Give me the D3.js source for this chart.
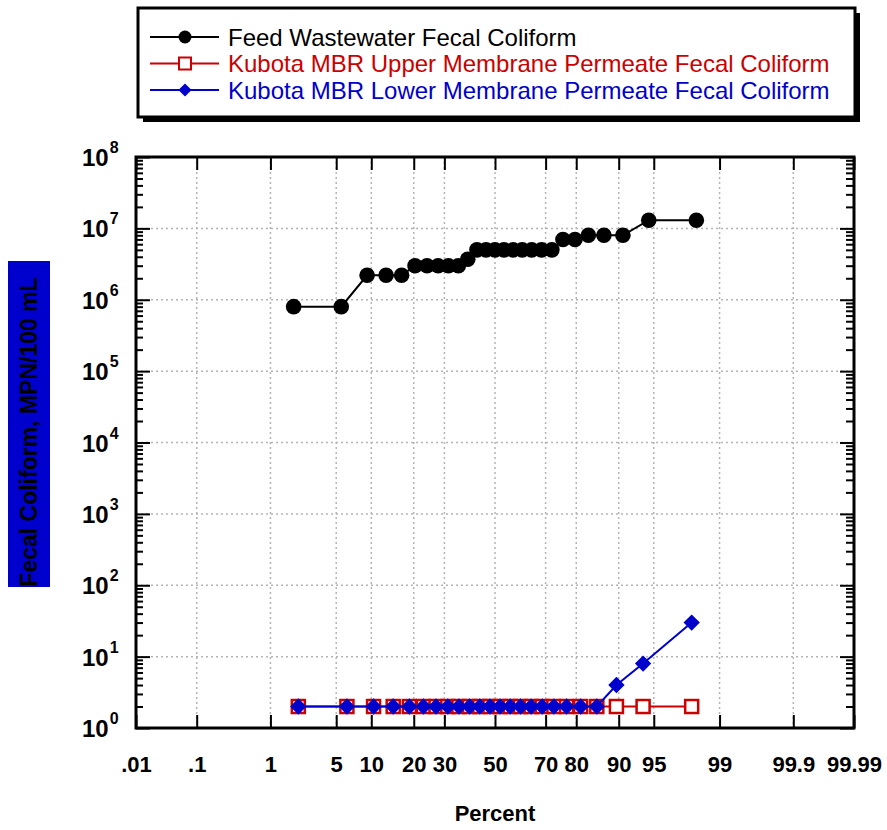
<!DOCTYPE html>
<html>
<head>
<meta charset="utf-8">
<script src="https://cdn.jsdelivr.net/npm/d3@7"></script>
<style>
  body { margin: 0; background: #fff; }
  svg { display: block; font-family: Arial, "Liberation Sans", sans-serif; }
</style>
</head>
<body>
<div id="chart"></div>
<script>
// probability plot - fecal coliform, feed vs. permeate
const xTickValues = [0.01, 0.1, 1, 5, 10, 20, 30, 50, 70, 80, 90, 95, 99, 99.9, 99.99];
const xTickLabels = [".01", ".1", "1", "5", "10", "20", "30", "50", "70", "80", "90", "95", "99", "99.9", "99.99"];
const yDecades = [0, 1, 2, 3, 4, 5, 6, 7, 8];

const feedPercent = [1.85, 5.56, 9.26, 12.96, 16.67, 20.37, 24.07, 27.78, 31.48, 35.19, 38.89, 42.59, 46.30, 50.00,
    53.70, 57.41, 61.11, 64.81, 68.52, 72.22, 75.93, 79.63, 83.33, 87.04, 90.74, 94.44, 98.15];
const feedValues = [8e5, 8e5, 2.2e6, 2.2e6, 2.2e6, 3e6, 3e6, 3e6, 3e6, 3e6, 3.7e6, 5e6, 5e6, 5e6,
    5e6, 5e6, 5e6, 5e6, 5e6, 5e6, 7e6, 7e6, 8e6, 8e6, 8e6, 1.3e7, 1.3e7];

const permeatePercent = [2.08, 6.25, 10.42, 14.58, 18.75, 22.92, 27.08, 31.25, 35.42, 39.58, 43.75, 47.92,
    52.08, 56.25, 60.42, 64.58, 68.75, 72.92, 77.08, 81.25, 85.42, 89.58, 93.75, 97.92];
const upperValues = [2, 2, 2, 2, 2, 2, 2, 2, 2, 2, 2, 2, 2, 2, 2, 2, 2, 2, 2, 2, 2, 2, 2, 2];
const lowerValues = [2, 2, 2, 2, 2, 2, 2, 2, 2, 2, 2, 2, 2, 2, 2, 2, 2, 2, 2, 2, 2, 4, 8, 30];

const seriesNames = [
    "Feed Wastewater Fecal Coliform",
    "Kubota MBR Upper Membrane Permeate Fecal Coliform",
    "Kubota MBR Lower Membrane Permeate Fecal Coliform"
];
const RED = "#cc0000", BLUE = "#0000cc";

// inverse normal cdf (Acklam)
function probit(p) {
    const a = [-39.69683028665376, 220.9460984245205, -275.9285104469687, 138.3577518672690, -30.66479806614716, 2.506628277459239];
    const b = [-54.47609879822406, 161.5858368580409, -155.6989798598866, 66.80131188771972, -13.28068155288572];
    const c = [-0.007784894002430293, -0.3223964580411365, -2.400758277161838, -2.549732539343734, 4.374664141464968, 2.938163982698783];
    const d = [0.007784695709041462, 0.3224671290700398, 2.445134137142996, 3.754408661907416];
    const pl = 0.02425;
    let q, r;
    if (p < pl) {
        q = Math.sqrt(-2 * Math.log(p));
        return (((((c[0] * q + c[1]) * q + c[2]) * q + c[3]) * q + c[4]) * q + c[5]) /
            ((((d[0] * q + d[1]) * q + d[2]) * q + d[3]) * q + 1);
    } else if (p <= 1 - pl) {
        q = p - 0.5; r = q * q;
        return (((((a[0] * r + a[1]) * r + a[2]) * r + a[3]) * r + a[4]) * r + a[5]) * q /
            (((((b[0] * r + b[1]) * r + b[2]) * r + b[3]) * r + b[4]) * r + 1);
    }
    q = Math.sqrt(-2 * Math.log(1 - p));
    return -(((((c[0] * q + c[1]) * q + c[2]) * q + c[3]) * q + c[4]) * q + c[5]) /
        ((((d[0] * q + d[1]) * q + d[2]) * q + d[3]) * q + 1);
}

const width = 887, height = 830;
const margin = { top: 157, right: 33, bottom: 102, left: 136 };
const innerW = width - margin.left - margin.right;
const innerH = height - margin.top - margin.bottom;

const svg = d3.select("#chart").append("svg")
    .attr("width", width)
    .attr("height", height);

const zMax = -probit(0.0001);
const zScale = d3.scaleLinear().domain([-zMax, zMax]).range([0, innerW]);
const x = p => zScale(probit(p / 100));
const y = d3.scaleLog().domain([1, 1e8]).range([innerH, 0]);

const g = svg.append("g").attr("transform", `translate(${margin.left},${margin.top})`);

// grid
g.selectAll(".hgrid")
    .data(yDecades.slice(1, -1))
    .enter().append("line")
    .attr("x1", 0).attr("x2", innerW)
    .attr("y1", d => y(Math.pow(10, d))).attr("y2", d => y(Math.pow(10, d)))
    .style("stroke", "#b4b4b4").style("stroke-width", 1.5).style("stroke-dasharray", "2,3");
g.selectAll(".vgrid")
    .data(xTickValues.slice(1, -1))
    .enter().append("line")
    .attr("x1", d => x(d)).attr("x2", d => x(d))
    .attr("y1", 0).attr("y2", innerH)
    .style("stroke", "#b4b4b4").style("stroke-width", 1.5).style("stroke-dasharray", "2,3");

// axes
const minorVals = [];
yDecades.slice(0, -1).forEach(e => {
    for (let k = 2; k <= 9; k++) minorVals.push(k * Math.pow(10, e));
});
const majorVals = yDecades.map(e => Math.pow(10, e));

function styleAxis(sel) {
    sel.select(".domain").remove();
    sel.selectAll(".tick line").style("stroke", "#000").style("stroke-width", 2);
}

g.append("g").attr("transform", `translate(0,${innerH})`)
    .call(d3.axisBottom(zScale).tickValues(xTickValues.map(p => probit(p / 100)))
        .tickSizeInner(-13).tickSizeOuter(0).tickPadding(28)
        .tickFormat((d, i) => xTickLabels[i]))
    .call(styleAxis)
    .call(a => a.selectAll("text").style("font-size", "22px").style("font-weight", "bold")
        .style("fill", "#000").style("font-family", "Arial, 'Liberation Sans', sans-serif"));
g.append("g")
    .call(d3.axisTop(zScale).tickValues(xTickValues.map(p => probit(p / 100)))
        .tickSizeInner(-13).tickSizeOuter(0).tickFormat(""))
    .call(styleAxis);

g.append("g").call(d3.axisLeft(y).tickValues(majorVals).tickSizeInner(-14).tickSizeOuter(0).tickFormat("")).call(styleAxis);
g.append("g").call(d3.axisLeft(y).tickValues(minorVals).tickSizeInner(-7).tickSizeOuter(0).tickFormat("")).call(styleAxis);
g.append("g").attr("transform", `translate(${innerW},0)`)
    .call(d3.axisRight(y).tickValues(majorVals).tickSizeInner(-14).tickSizeOuter(0).tickFormat("")).call(styleAxis);
g.append("g").attr("transform", `translate(${innerW},0)`)
    .call(d3.axisRight(y).tickValues(minorVals).tickSizeInner(-8).tickSizeOuter(0).tickFormat("")).call(styleAxis);

g.append("rect")
    .attr("width", innerW).attr("height", innerH)
    .style("fill", "none").style("stroke", "#000").style("stroke-width", 3);

// y tick labels 10^n
const yLabels = g.selectAll(".ylab")
    .data(yDecades)
    .enter().append("text")
    .attr("x", -54)
    .attr("y", d => y(Math.pow(10, d)) + 9)
    .style("font-size", "24px").style("font-weight", "bold");
yLabels.append("tspan").text("10");
yLabels.append("tspan").attr("dx", 1).attr("dy", -13).style("font-size", "16px").text(d => d);

// series
const line = d3.line().x(d => x(d[0])).y(d => y(d[1]));
const feedPts = d3.zip(feedPercent, feedValues);
const upperPts = d3.zip(permeatePercent, upperValues);
const lowerPts = d3.zip(permeatePercent, lowerValues);

g.append("path").datum(upperPts).attr("d", line)
    .style("fill", "none").style("stroke", RED).style("stroke-width", 2);
g.selectAll(".up").data(upperPts).enter().append("rect")
    .attr("x", d => x(d[0]) - 6.5).attr("y", d => y(d[1]) - 6.5)
    .attr("width", 13).attr("height", 13)
    .style("fill", "#fff").style("stroke", RED).style("stroke-width", 2.5);

g.append("path").datum(lowerPts).attr("d", line)
    .style("fill", "none").style("stroke", BLUE).style("stroke-width", 2);
g.selectAll(".low").data(lowerPts).enter().append("path")
    .attr("d", d3.symbol(d3.symbolDiamond2, 170))
    .attr("transform", d => `translate(${x(d[0])},${y(d[1])})`)
    .style("fill", BLUE);

g.append("path").datum(feedPts).attr("d", line)
    .style("fill", "none").style("stroke", "#000").style("stroke-width", 2);
g.selectAll(".feed").data(feedPts).enter().append("circle")
    .attr("cx", d => x(d[0])).attr("cy", d => y(d[1]))
    .attr("r", 7.8)
    .style("fill", "#000");

// axis titles
svg.append("text")
    .attr("x", margin.left + innerW / 2).attr("y", 821)
    .style("text-anchor", "middle").style("font-size", "22px").style("font-weight", "bold")
    .text("Percent");
svg.append("rect")
    .attr("x", 8).attr("y", 261).attr("width", 42).attr("height", 326)
    .style("fill", BLUE);
svg.append("text")
    .attr("transform", "translate(37,432) rotate(-90)")
    .style("text-anchor", "middle").style("font-size", "23px").style("font-weight", "bold")
    .style("fill", "#000")
    .text("Fecal Coliform, MPN/100 mL");

// legend
const legend = svg.append("g");
legend.append("rect").attr("x", 143).attr("y", 13).attr("width", 717).attr("height", 109).style("fill", "#000");
legend.append("rect").attr("x", 138).attr("y", 8).attr("width", 717).attr("height", 109)
    .style("fill", "#fff").style("stroke", "#000").style("stroke-width", 3);

const legColors = ["#000", RED, BLUE];
const legItems = legend.selectAll(".item")
    .data(seriesNames)
    .enter().append("g")
    .attr("transform", (d, i) => `translate(0,${37 + i * 26.5})`);
legItems.append("line")
    .attr("x1", 150).attr("x2", 219)
    .style("stroke", (d, i) => legColors[i]).style("stroke-width", 2);
legItems.filter((d, i) => i === 0).append("circle")
    .attr("cx", 185).attr("r", 6.5).style("fill", "#000");
legItems.filter((d, i) => i === 1).append("rect")
    .attr("x", 179).attr("y", -6).attr("width", 12).attr("height", 12)
    .style("fill", "#fff").style("stroke", RED).style("stroke-width", 2);
legItems.filter((d, i) => i === 2).append("path")
    .attr("d", d3.symbol(d3.symbolDiamond2, 110))
    .attr("transform", "translate(185,0)")
    .style("fill", BLUE);
legItems.append("text")
    .attr("x", 228).attr("dy", "0.36em")
    .style("font-size", "24px")
    .style("fill", (d, i) => legColors[i])
    .text(d => d);
</script>
</body>
</html>
